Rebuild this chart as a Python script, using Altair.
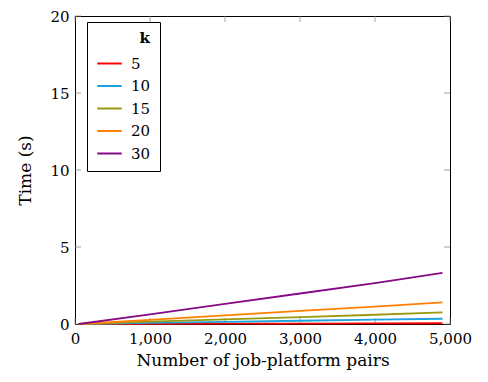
import altair as alt
import pandas as pd

x_vals = [50, 1000, 2000, 3000, 4000, 4900]
k_labels = ["5", "10", "15", "20", "30"]
series = {
    "5": [0.0, 0.01, 0.02, 0.03, 0.04, 0.05],
    "10": [0.0, 0.07, 0.14, 0.21, 0.28, 0.34],
    "15": [0.0, 0.15, 0.30, 0.45, 0.60, 0.76],
    "20": [0.0, 0.27, 0.56, 0.85, 1.13, 1.40],
    "30": [0.0, 0.62, 1.30, 1.98, 2.65, 3.32],
}
colors = ["#ff0000", "#1ba3dd", "#9a9a10", "#ff8000", "#860a86"]
x_ticks = [0, 1000, 2000, 3000, 4000, 5000]
y_ticks = [0, 5, 10, 15, 20]

rows = []
for k in k_labels:
    for xv, yv in zip(x_vals, series[k]):
        rows.append({"n": xv, "t": yv, "k": k})
df = pd.DataFrame(rows)

W, H = 375, 308
FONT = "DejaVu Serif"
TL = 6

xs = alt.Scale(domain=[0, 5000], nice=False)
ys = alt.Scale(domain=[0, 20], nice=False)

lines = alt.Chart(df).mark_line(strokeWidth=1.8).encode(
    x=alt.X("n:Q", scale=xs, title="Number of job-platform pairs",
            axis=alt.Axis(values=x_ticks, format=",d", domain=False, ticks=False,
                          grid=False, labelPadding=7, titlePadding=6,
                          labelFlush=False, labelFont=FONT, titleFont=FONT,
                          labelFontSize=15, titleFontSize=17)),
    y=alt.Y("t:Q", scale=ys, title="Time (s)",
            axis=alt.Axis(values=y_ticks, domain=False, ticks=False, grid=False,
                          labelPadding=6, titlePadding=15, labelFlush=False,
                          labelFont=FONT, titleFont=FONT,
                          labelFontSize=15, titleFontSize=17)),
    color=alt.Color("k:N", sort=k_labels,
                    scale=alt.Scale(domain=k_labels, range=colors),
                    legend=alt.Legend(title="k", orient="none", legendX=12, legendY=6,
                                      strokeColor="black", fillColor="white",
                                      padding=9, symbolType="stroke",
                                      symbolSize=600, symbolStrokeWidth=2,
                                      titleAnchor="end", titleFontWeight="bold",
                                      titleFont=FONT, labelFont=FONT,
                                      titleFontSize=15, labelFontSize=15,
                                      titlePadding=4,
                                      rowPadding=0.5, labelOffset=8)),
    order=alt.Order("n:Q"),
)

xt = pd.DataFrame({"v": x_ticks})
yt = pd.DataFrame({"v": y_ticks})
tick_col = "#888888"
xb = alt.Chart(xt).mark_rule(color=tick_col, strokeWidth=0.8).encode(
    x=alt.X("v:Q", scale=xs), y=alt.value(H - TL), y2=alt.value(H))
xtp = alt.Chart(xt).mark_rule(color=tick_col, strokeWidth=0.8).encode(
    x=alt.X("v:Q", scale=xs), y=alt.value(0), y2=alt.value(TL))
yl = alt.Chart(yt).mark_rule(color=tick_col, strokeWidth=0.8).encode(
    y=alt.Y("v:Q", scale=ys), x=alt.value(0), x2=alt.value(TL))
yr = alt.Chart(yt).mark_rule(color=tick_col, strokeWidth=0.8).encode(
    y=alt.Y("v:Q", scale=ys), x=alt.value(W - TL), x2=alt.value(W))

chart = alt.layer(xb, xtp, yl, yr, lines).properties(
    width=W, height=H,
    autosize=alt.AutoSizeParams(type="none"),
    padding={"left": 67, "top": 8, "right": 30, "bottom": 46},
).configure_view(stroke="black", strokeWidth=1).configure_axis(
    labelColor="black", titleColor="black", titleFontWeight="normal",
).configure_legend(
    labelColor="black", titleColor="black",
)

chart.save("out.html", embed_options={"renderer": "svg", "actions": False})
